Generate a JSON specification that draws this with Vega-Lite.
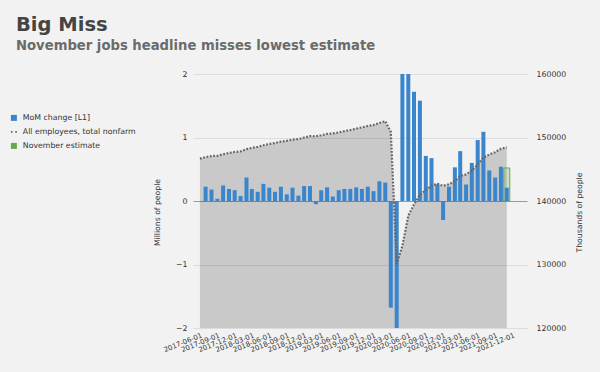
{
  "$schema": "https://vega.github.io/schema/vega-lite/v6.json",
  "width": 334,
  "height": 254,
  "autosize": {"type": "none"},
  "padding": {"left": 193, "top": 74, "right": 73, "bottom": 44},
  "background": "#f2f2f2",
  "config": {
    "font": "DejaVu Sans",
    "view": {"stroke": null},
    "axis": {"labelColor": "#333", "titleColor": "#333", "labelFont": "DejaVu Sans", "titleFont": "DejaVu Sans"}
  },
  "title": {
    "text": "Big Miss",
    "subtitle": "November jobs headline misses lowest estimate",
    "anchor": "start",
    "frame": "group",
    "dx": -177,
    "offset": 17,
    "fontSize": 19.5,
    "fontWeight": "bold",
    "color": "#444444",
    "subtitleFontSize": 13.2,
    "subtitleFontWeight": "bold",
    "subtitleColor": "#6b6b6b",
    "subtitlePadding": 4
  },
  "datasets": {
    "jobs": [
      {"date": "2017-07-01", "chg": 0.225},
      {"date": "2017-08-01", "chg": 0.18},
      {"date": "2017-09-01", "chg": 0.035},
      {"date": "2017-10-01", "chg": 0.245},
      {"date": "2017-11-01", "chg": 0.19},
      {"date": "2017-12-01", "chg": 0.17},
      {"date": "2018-01-01", "chg": 0.08},
      {"date": "2018-02-01", "chg": 0.37},
      {"date": "2018-03-01", "chg": 0.19},
      {"date": "2018-04-01", "chg": 0.145},
      {"date": "2018-05-01", "chg": 0.27},
      {"date": "2018-06-01", "chg": 0.21},
      {"date": "2018-07-01", "chg": 0.145},
      {"date": "2018-08-01", "chg": 0.225},
      {"date": "2018-09-01", "chg": 0.105},
      {"date": "2018-10-01", "chg": 0.21},
      {"date": "2018-11-01", "chg": 0.085},
      {"date": "2018-12-01", "chg": 0.235},
      {"date": "2019-01-01", "chg": 0.235},
      {"date": "2019-02-01", "chg": -0.05},
      {"date": "2019-03-01", "chg": 0.17},
      {"date": "2019-04-01", "chg": 0.215},
      {"date": "2019-05-01", "chg": 0.07},
      {"date": "2019-06-01", "chg": 0.17},
      {"date": "2019-07-01", "chg": 0.19},
      {"date": "2019-08-01", "chg": 0.19},
      {"date": "2019-09-01", "chg": 0.215},
      {"date": "2019-10-01", "chg": 0.19},
      {"date": "2019-11-01", "chg": 0.225},
      {"date": "2019-12-01", "chg": 0.155},
      {"date": "2020-01-01", "chg": 0.31},
      {"date": "2020-02-01", "chg": 0.29},
      {"date": "2020-03-01", "chg": -1.68},
      {"date": "2020-04-01", "chg": -20.5},
      {"date": "2020-05-01", "chg": 2.83},
      {"date": "2020-06-01", "chg": 4.85},
      {"date": "2020-07-01", "chg": 1.72},
      {"date": "2020-08-01", "chg": 1.58},
      {"date": "2020-09-01", "chg": 0.71},
      {"date": "2020-10-01", "chg": 0.675},
      {"date": "2020-11-01", "chg": 0.26},
      {"date": "2020-12-01", "chg": -0.3},
      {"date": "2021-01-01", "chg": 0.225},
      {"date": "2021-02-01", "chg": 0.53},
      {"date": "2021-03-01", "chg": 0.785},
      {"date": "2021-04-01", "chg": 0.26},
      {"date": "2021-05-01", "chg": 0.6},
      {"date": "2021-06-01", "chg": 0.96},
      {"date": "2021-07-01", "chg": 1.09},
      {"date": "2021-08-01", "chg": 0.48},
      {"date": "2021-09-01", "chg": 0.37},
      {"date": "2021-10-01", "chg": 0.54},
      {"date": "2021-11-01", "chg": 0.21}
    ],
    "emp": [
      {"date": "2017-06-01", "emp": 146680},
      {"date": "2017-07-01", "emp": 146905},
      {"date": "2017-08-01", "emp": 147085},
      {"date": "2017-09-01", "emp": 147120},
      {"date": "2017-10-01", "emp": 147365},
      {"date": "2017-11-01", "emp": 147555},
      {"date": "2017-12-01", "emp": 147725},
      {"date": "2018-01-01", "emp": 147805},
      {"date": "2018-02-01", "emp": 148175},
      {"date": "2018-03-01", "emp": 148365},
      {"date": "2018-04-01", "emp": 148510},
      {"date": "2018-05-01", "emp": 148780},
      {"date": "2018-06-01", "emp": 148990},
      {"date": "2018-07-01", "emp": 149135},
      {"date": "2018-08-01", "emp": 149360},
      {"date": "2018-09-01", "emp": 149465},
      {"date": "2018-10-01", "emp": 149675},
      {"date": "2018-11-01", "emp": 149760},
      {"date": "2018-12-01", "emp": 149995},
      {"date": "2019-01-01", "emp": 150230},
      {"date": "2019-02-01", "emp": 150180},
      {"date": "2019-03-01", "emp": 150350},
      {"date": "2019-04-01", "emp": 150565},
      {"date": "2019-05-01", "emp": 150635},
      {"date": "2019-06-01", "emp": 150805},
      {"date": "2019-07-01", "emp": 150995},
      {"date": "2019-08-01", "emp": 151185},
      {"date": "2019-09-01", "emp": 151400},
      {"date": "2019-10-01", "emp": 151590},
      {"date": "2019-11-01", "emp": 151815},
      {"date": "2019-12-01", "emp": 151970},
      {"date": "2020-01-01", "emp": 152280},
      {"date": "2020-02-01", "emp": 152570},
      {"date": "2020-03-01", "emp": 150890},
      {"date": "2020-04-01", "emp": 130100},
      {"date": "2020-05-01", "emp": 132950},
      {"date": "2020-06-01", "emp": 137700},
      {"date": "2020-07-01", "emp": 139450},
      {"date": "2020-08-01", "emp": 141000},
      {"date": "2020-09-01", "emp": 141700},
      {"date": "2020-10-01", "emp": 142400},
      {"date": "2020-11-01", "emp": 142700},
      {"date": "2020-12-01", "emp": 142400},
      {"date": "2021-01-01", "emp": 142620},
      {"date": "2021-02-01", "emp": 143150},
      {"date": "2021-03-01", "emp": 143930},
      {"date": "2021-04-01", "emp": 144190},
      {"date": "2021-05-01", "emp": 144790},
      {"date": "2021-06-01", "emp": 145750},
      {"date": "2021-07-01", "emp": 146840},
      {"date": "2021-08-01", "emp": 147320},
      {"date": "2021-09-01", "emp": 147690},
      {"date": "2021-10-01", "emp": 148230},
      {"date": "2021-11-01", "emp": 148440}
    ],
    "est": [
      {"date": "2021-11-01", "est": 0.52}
    ]
  },
  "encoding": {
    "x": {
      "field": "date",
      "type": "temporal",
      "scale": {
        "type": "utc",
        "domain": [
          {"year": 2017, "month": 5, "date": 22, "utc": true},
          {"year": 2022, "month": 1, "date": 20, "utc": true}
        ]
      },
      "axis": {
        "title": null,
        "values": [
          {"year": 2017, "month": 6, "date": 1, "utc": true},
          {"year": 2017, "month": 9, "date": 1, "utc": true},
          {"year": 2017, "month": 12, "date": 1, "utc": true},
          {"year": 2018, "month": 3, "date": 1, "utc": true},
          {"year": 2018, "month": 6, "date": 1, "utc": true},
          {"year": 2018, "month": 9, "date": 1, "utc": true},
          {"year": 2018, "month": 12, "date": 1, "utc": true},
          {"year": 2019, "month": 3, "date": 1, "utc": true},
          {"year": 2019, "month": 6, "date": 1, "utc": true},
          {"year": 2019, "month": 9, "date": 1, "utc": true},
          {"year": 2019, "month": 12, "date": 1, "utc": true},
          {"year": 2020, "month": 3, "date": 1, "utc": true},
          {"year": 2020, "month": 6, "date": 1, "utc": true},
          {"year": 2020, "month": 9, "date": 1, "utc": true},
          {"year": 2020, "month": 12, "date": 1, "utc": true},
          {"year": 2021, "month": 3, "date": 1, "utc": true},
          {"year": 2021, "month": 6, "date": 1, "utc": true},
          {"year": 2021, "month": 9, "date": 1, "utc": true},
          {"year": 2021, "month": 12, "date": 1, "utc": true}
        ],
        "format": "%Y-%m-%d",
        "labelAngle": -22,
        "labelAlign": "right",
        "labelBaseline": "top",
        "labelFontSize": 7,
        "labelPadding": 3,
        "labelOverlap": false,
        "labelBound": false,
        "labelFlush": false,
        "domain": false,
        "ticks": false,
        "grid": false
      }
    }
  },
  "layer": [
    {
      "data": {"name": "emp"},
      "mark": {"type": "area", "color": "#000000", "opacity": 0.17, "clip": true},
      "encoding": {
        "y": {
          "field": "emp",
          "type": "quantitative",
          "scale": {"domain": [120000, 160000], "zero": false, "nice": false},
          "axis": {
            "orient": "right",
            "values": [120000, 130000, 140000, 150000, 160000],
            "format": "d",
            "grid": false,
            "domain": false,
            "ticks": false,
            "labelPadding": 9,
            "labelFontSize": 7.8,
            "title": "Thousands of people",
            "titleFontSize": 7.7,
            "titleFontWeight": "normal",
            "titleAngle": 270,
            "titleY": 138,
            "titlePadding": 18
          }
        },
        "y2": {"datum": 120000}
      }
    },
    {
      "data": {"name": "est"},
      "mark": {"type": "bar", "width": 6, "fillOpacity": 0.25, "stroke": "#6aa84f", "strokeWidth": 1, "clip": true},
      "encoding": {
        "y": {
          "field": "est",
          "type": "quantitative",
          "scale": {"domain": [-2, 2], "nice": false},
          "axis": null
        },
        "color": {"datum": "November estimate"}
      }
    },
    {
      "data": {"name": "jobs"},
      "mark": {"type": "bar", "width": 4, "clip": true},
      "encoding": {
        "y": {
          "field": "chg",
          "type": "quantitative",
          "scale": {"domain": [-2, 2], "nice": false},
          "axis": {
            "orient": "left",
            "values": [-2, -1, 0, 1, 2],
            "grid": true,
            "gridColor": {"condition": {"test": "datum.value === 0", "value": "#9a9a9a"}, "value": "#dcdcdc"},
            "gridWidth": 1,
            "domain": false,
            "ticks": false,
            "labelPadding": 6,
            "labelFontSize": 7.8,
            "title": "Millions of people",
            "titleFontSize": 7.7,
            "titleFontWeight": "normal",
            "titleY": 138,
            "titlePadding": 14
          }
        },
        "color": {
          "datum": "MoM change [L1]",
          "scale": {
            "domain": ["MoM change [L1]", "All employees, total nonfarm", "November estimate"],
            "range": ["#3a85cc", "#666666", "#6aa84f"]
          },
          "legend": {
            "title": null,
            "orient": "none",
            "legendX": -183,
            "legendY": 40,
            "labelFontSize": 7.8,
            "labelColor": "#333",
            "symbolType": "square",
            "symbolSize": 36,
            "rowPadding": 5,
            "labelOffset": 5,
            "encode": {
              "symbols": {
                "update": {
                  "shape": {"signal": "datum.value === 'All employees, total nonfarm' ? 'M-1,-0.28H-0.45V0.28H-1Z M0.45,-0.28H1V0.28H0.45Z' : 'square'"},
                  "fill": {"signal": "datum.value === 'MoM change [L1]' ? '#3a85cc' : datum.value === 'November estimate' ? '#6aa84f' : '#666666'"},
                  "fillOpacity": {"value": 1},
                  "opacity": {"value": 1},
                  "strokeWidth": {"value": 0}
                }
              }
            }
          }
        }
      }
    },
    {
      "data": {"name": "emp"},
      "mark": {"type": "line", "strokeWidth": 2.2, "strokeDash": [1.8, 1.6], "clip": true},
      "encoding": {
        "y": {
          "field": "emp",
          "type": "quantitative",
          "scale": {"domain": [120000, 160000], "zero": false, "nice": false},
          "axis": null
        },
        "color": {"datum": "All employees, total nonfarm"}
      }
    }
  ],
  "resolve": {"scale": {"y": "independent"}, "axis": {"y": "independent"}}
}
